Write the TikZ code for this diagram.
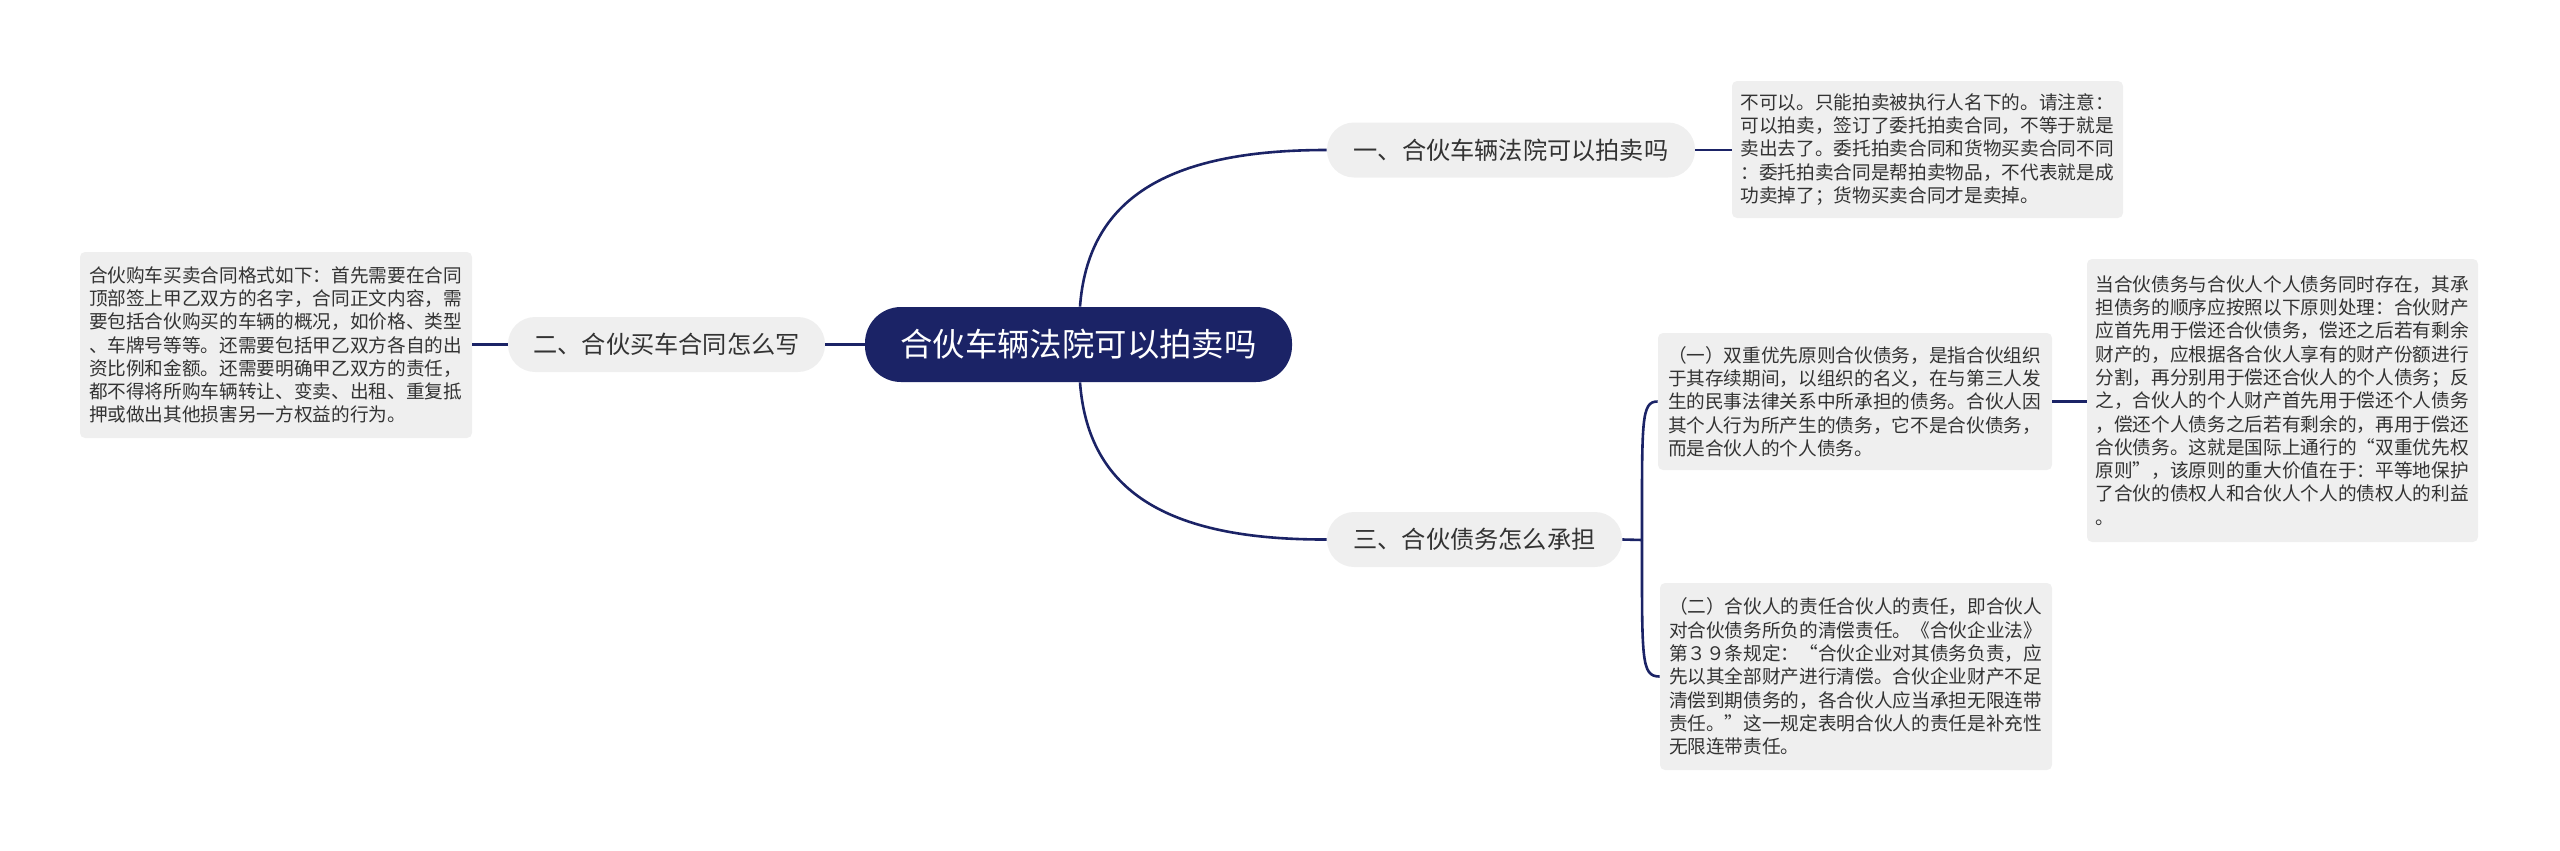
\documentclass[tikz,border=0pt]{standalone}
\usepackage{fontspec}
\setmainfont{Noto Sans CJK SC}
\definecolor{navy}{HTML}{1B2366}
\definecolor{boxgray}{HTML}{EFEFEF}
\definecolor{txt}{HTML}{333333}
\begin{document}
\begin{tikzpicture}[x=0.5pt,y=-0.5pt,
  conn/.style={draw=navy,line width=1.3pt},
  rootnode/.style={fill=navy,text=white,rounded corners=18pt,minimum width=213.5pt,minimum height=37.5pt,inner sep=0pt,font=\fontsize{16.2}{19}\selectfont},
  branch/.style={fill=boxgray,text=txt,rounded corners=13.5pt,minimum height=27.5pt,inner sep=0pt,font=\fontsize{12.1}{14}\selectfont},
  leaf/.style={fill=boxgray,text=txt,rounded corners=2.5pt,inner sep=0pt,align=left,font=\fontsize{9.33}{11.65}\selectfont}]
\useasboundingbox (0,0) rectangle (2560,851);
% nodes
\node[rootnode] (c) at (1078.5,344.5) {合伙车辆法院可以拍卖吗};
\node[branch,minimum width=184pt] (n1) at (1511,150) {一、合伙车辆法院可以拍卖吗};
\node[branch,minimum width=158.5pt] (n2) at (666.5,344.5) {二、合伙买车合同怎么写};
\node[branch,minimum width=147.5pt] (n3) at (1474.5,539.5) {三、合伙债务怎么承担};
\node[leaf,minimum width=195.5pt,minimum height=68.5pt,text width=187pt] (tr) at (1927.5,149.5) {不可以。只能拍卖被执行人名下的。请注意：\\可以拍卖，签订了委托拍卖合同，不等于就是\\卖出去了。委托拍卖合同和货物买卖合同不同\\：委托拍卖合同是帮拍卖物品，不代表就是成\\功卖掉了；货物买卖合同才是卖掉。};
\node[leaf,minimum width=196pt,minimum height=93pt,text width=187pt] (lb) at (276,345) {合伙购车买卖合同格式如下：首先需要在合同\\顶部签上甲乙双方的名字，合同正文内容，需\\要包括合伙购买的车辆的概况，如价格、类型\\、车牌号等等。还需要包括甲乙双方各自的出\\资比例和金额。还需要明确甲乙双方的责任，\\都不得将所购车辆转让、变卖、出租、重复抵\\押或做出其他损害另一方权益的行为。};
\node[leaf,minimum width=195.5pt,minimum height=141.5pt,text width=187pt] (rf) at (2282.5,400.5) {当合伙债务与合伙人个人债务同时存在，其承\\担债务的顺序应按照以下原则处理：合伙财产\\应首先用于偿还合伙债务，偿还之后若有剩余\\财产的，应根据各合伙人享有的财产份额进行\\分割，再分别用于偿还合伙人的个人债务；反\\之，合伙人的个人财产首先用于偿还个人债务\\，偿还个人债务之后若有剩余的，再用于偿还\\合伙债务。这就是国际上通行的“双重优先权\\原则”，该原则的重大价值在于：平等地保护\\了合伙的债权人和合伙人个人的债权人的利益\\。};
\node[leaf,minimum width=197pt,minimum height=68.5pt,text width=187pt] (b1) at (1855,401.5) {（一）双重优先原则合伙债务，是指合伙组织\\于其存续期间，以组织的名义，在与第三人发\\生的民事法律关系中所承担的债务。合伙人因\\其个人行为所产生的债务，它不是合伙债务，\\而是合伙人的个人债务。};
\node[leaf,minimum width=196pt,minimum height=93.5pt,text width=187pt] (b2) at (1856,676.5) {（二）合伙人的责任合伙人的责任，即合伙人\\对合伙债务所负的清偿责任。《合伙企业法》\\第３９条规定：“合伙企业对其债务负责，应\\先以其全部财产进行清偿。合伙企业财产不足\\清偿到期债务的，各合伙人应当承担无限连带\\责任。”这一规定表明合伙人的责任是补充性\\无限连带责任。};
\coordinate (j) at (1642,540);
% connectors
\draw[conn] (c.north -| 1080,0) .. controls (1088,200) and (1165,150) .. (n1.west);
\draw[conn] (c.south -| 1080,0) .. controls (1088,490) and (1165,540) .. (n3.west);
\draw[conn] (c.west) -- (n2.east);
\draw[conn] (n2.west) -- (n2.west -| lb.east);
\draw[conn] (n1.east) -- (n1.east -| tr.west);
\draw[conn] (n3.east) -- (j);
\draw[conn] (j) .. controls (1642,420) and (1641,401.5) .. (b1.west);
\draw[conn] (j) .. controls (1642,660) and (1641,676.5) .. (b2.west);
\draw[conn] (b1.east) -- (b1.east -| rf.west);
\end{tikzpicture}
\end{document}
